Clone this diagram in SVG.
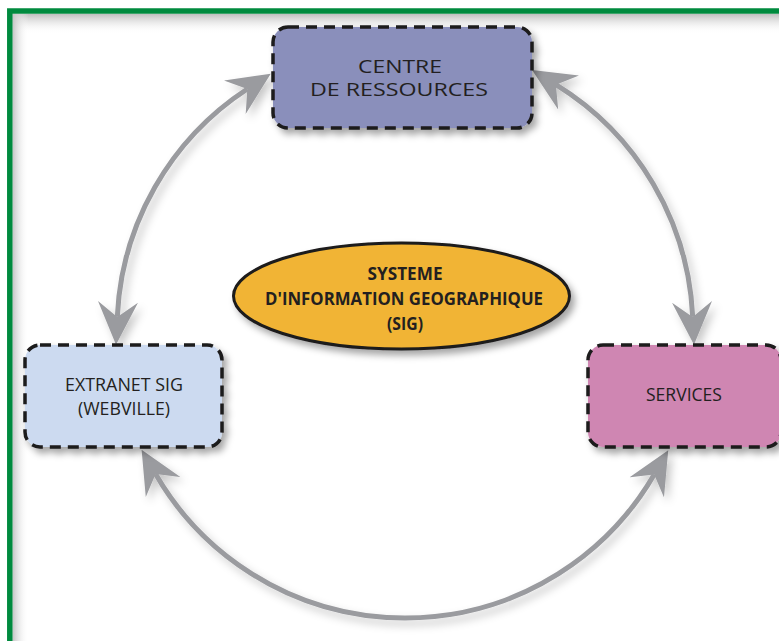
<svg xmlns="http://www.w3.org/2000/svg" width="779" height="641" viewBox="0 0 779 641">
  <style>
    .box { stroke: #1c1a1b; stroke-width: 3.5; stroke-dasharray: 11 7; filter: url(#shadow); }
    .lbl { font-family: "Open Sans", "Noto Sans", "Liberation Sans", sans-serif; font-size: 17.5px; fill: #231f20; text-anchor: middle; }
    .sig { font-family: "Open Sans", "Noto Sans", "Liberation Sans", sans-serif; font-size: 17.5px; font-weight: 700; fill: #231f20; text-anchor: middle; }
    .arc { fill: none; stroke: #9a9b9f; stroke-width: 5; marker-start: url(#head); marker-end: url(#head); }
  </style>
  <defs>
    <filter id="shadow" x="-20%" y="-20%" width="140%" height="150%">
      <feDropShadow dx="4" dy="5" stdDeviation="3.5" flood-color="#000" flood-opacity="0.35"/>
    </filter>
    <filter id="ashadow" x="-20%" y="-20%" width="140%" height="140%">
      <feDropShadow dx="4" dy="5" stdDeviation="4" flood-color="#000" flood-opacity="0.22"/>
    </filter>
    <marker id="head" viewBox="-15 -20 43 40" markerWidth="43" markerHeight="40" refX="0" refY="0" markerUnits="userSpaceOnUse" orient="auto-start-reverse">
      <path d="M28,0 L-15,-20 L0,0 L-15,20 Z" fill="#9a9b9f"/>
    </marker>
    <linearGradient id="topShade" x1="0" y1="0" x2="0" y2="1">
      <stop offset="0" stop-color="#bdbdbd" stop-opacity="1"/>
      <stop offset="1" stop-color="#ffffff" stop-opacity="0"/>
    </linearGradient>
    <linearGradient id="leftShade" x1="0" y1="0" x2="1" y2="0">
      <stop offset="0" stop-color="#c4c4c4" stop-opacity="1"/>
      <stop offset="1" stop-color="#ffffff" stop-opacity="0"/>
    </linearGradient>
  </defs>

  <rect x="0" y="0" width="779" height="641" fill="#ffffff"/>

  <g id="frame">
    <rect x="12.5" y="13.8" width="767" height="20" fill="url(#topShade)"/>
    <rect x="12.5" y="13.8" width="16" height="628" fill="url(#leftShade)"/>
    <rect x="9.8" y="11" width="790" height="650" fill="none" stroke="#008a3e" stroke-width="5.5"/>
  </g>

  <g id="connectors" filter="url(#ashadow)">
    <path class="arc" d="M117.3,316.9 A288,288 0 0 1 247.3,89.0"/>
    <path class="arc" d="M555.9,84.7 A288,288 0 0 1 692.7,316.9"/>
    <path class="arc" d="M654.2,474.4 A288,288 0 0 1 155.6,474.0"/>
  </g>

  <g id="centre-ressources">
    <rect class="box" x="273" y="27" width="259" height="101" rx="15" fill="#8a8fbb"/>
    <text class="lbl" x="400" y="73" textLength="84" lengthAdjust="spacingAndGlyphs">CENTRE</text>
    <text class="lbl" x="399" y="96" textLength="178" lengthAdjust="spacingAndGlyphs">DE RESSOURCES</text>
  </g>

  <g id="extranet">
    <rect class="box" x="25" y="345" width="197" height="102" rx="15" fill="#ccdaf0"/>
    <text class="lbl" x="124" y="391" textLength="118" lengthAdjust="spacingAndGlyphs">EXTRANET SIG</text>
    <text class="lbl" x="124" y="415" textLength="92" lengthAdjust="spacingAndGlyphs">(WEBVILLE)</text>
  </g>

  <g id="services">
    <rect class="box" x="588" y="345" width="193" height="102" rx="15" fill="#cf86b2"/>
    <text class="lbl" x="684" y="401" textLength="76" lengthAdjust="spacingAndGlyphs">SERVICES</text>
  </g>

  <g id="sig">
    <ellipse cx="401.5" cy="296" rx="168" ry="53" fill="#f1b434" stroke="#1c1a1b" stroke-width="3" filter="url(#shadow)"/>
    <text class="sig" x="405" y="280" textLength="75" lengthAdjust="spacingAndGlyphs">SYSTEME</text>
    <text class="sig" x="404" y="305" textLength="278" lengthAdjust="spacingAndGlyphs">D'INFORMATION GEOGRAPHIQUE</text>
    <text class="sig" x="405" y="330" textLength="36" lengthAdjust="spacingAndGlyphs">(SIG)</text>
  </g>
</svg>
